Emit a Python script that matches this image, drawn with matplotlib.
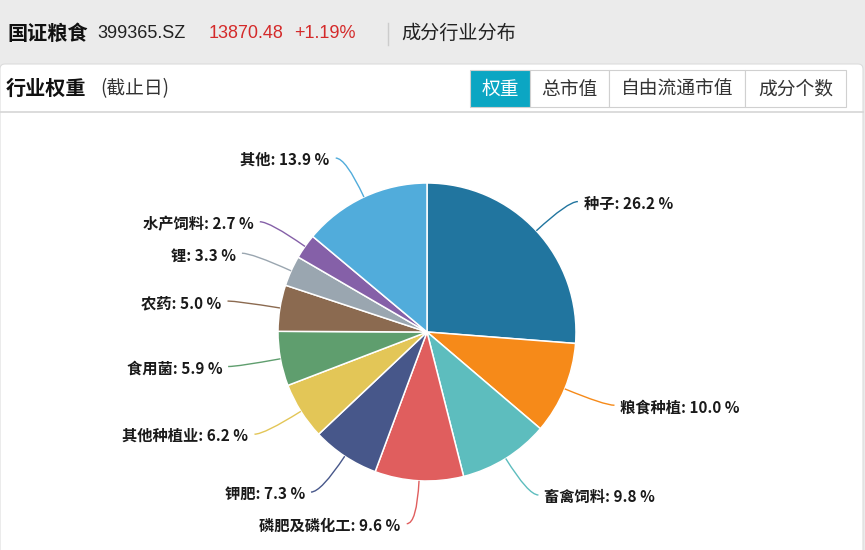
import matplotlib.pyplot as plt
import numpy as np
from matplotlib.patches import Rectangle, FancyBboxPatch, PathPatch
from matplotlib.path import Path

plt.rcParams['font.family'] = ['Noto Sans CJK SC', 'DejaVu Sans']

# data
industries = ['种子', '粮食种植', '畜禽饲料', '磷肥及磷化工', '钾肥', '其他种植业',
              '食用菌', '农药', '锂', '水产饲料', '其他']
weights = [26.2, 10.0, 9.8, 9.6, 7.3, 6.2, 5.9, 5.0, 3.3, 2.7, 13.9]
colors = ['#21759f', '#f68a19', '#5dbdbe', '#e05e5e', '#47578a', '#e3c657',
          '#5f9e6e', '#8b6a50', '#9aa6b0', '#8560a8', '#51acdb']
tabs = ['权重', '总市值', '自由流通市值', '成分个数']

latin = ['Liberation Sans', 'Noto Sans CJK SC']

fig = plt.figure(figsize=(8.65, 5.5), dpi=100)
fig.patch.set_facecolor('#ebebeb')
ax = fig.add_axes([0, 0, 1, 1])
ax.set_xlim(0, 865)
ax.set_ylim(550, 0)
ax.axis('off')

# white panel
ax.add_patch(FancyBboxPatch((0, 64), 863, 500, boxstyle='round,pad=0,rounding_size=5',
                            fc='white', ec='#dcdcdc', lw=0.8, zorder=0))
ax.plot([0, 863], [112, 112], color='#d6d6d6', lw=1.2, zorder=1)

# header line
ax.text(7, 33, '国证粮食', fontsize=14.5, fontweight='bold', va='center', color='#111111')
ax.text(97, 34, '399365.SZ', fontsize=13, va='center', color='#222222', family=latin)
ax.text(209, 34, '13870.48', fontsize=13, va='center', color='#d42a2a', family=latin)
ax.text(294, 34, '+1.19%', fontsize=13, va='center', color='#d42a2a', family=latin)
ax.plot([388, 388], [23, 45], color='#cccccc', lw=1)
ax.text(401, 33, '成分行业分布', fontsize=13.8, va='center', color='#222222')

# second line
ax.text(6, 88, '行业权重', fontsize=14.5, fontweight='bold', va='center', color='#111111')
ax.text(100, 89, '(截止日)', fontsize=13.5, va='center', color='#333333')

# tabs
tab_edges = [470, 530, 609, 745, 846]
for i, t in enumerate(tabs):
    x0, x1 = tab_edges[i], tab_edges[i + 1]
    active = i == 0
    ax.add_patch(Rectangle((x0, 70), x1 - x0, 37, fc='#0ba6c3' if active else 'white',
                           ec='#d0d0d0', lw=0.8, zorder=2))
    ax.text((x0 + x1) / 2, 89, t, fontsize=13.5, ha='center', va='center',
            color='white' if active else '#333333', zorder=3)

# pie
cx, cy, r = 427, 332, 149
wedges, _ = ax.pie(weights, colors=colors, startangle=-90, counterclock=True,
                   center=(cx, cy), radius=r, frame=True,
                   wedgeprops=dict(edgecolor='white', linewidth=1.1))
ax.set_xlim(0, 865)
ax.set_ylim(550, 0)
ax.axis('off')

for w, name, val, c in zip(wedges, industries, weights, colors):
    mid = np.deg2rad((w.theta1 + w.theta2) / 2)
    ux, uy = np.cos(mid), np.sin(mid)
    side = 1 if ux >= 0 else -1
    a = (cx + r * ux, cy + r * uy)
    b = (cx + (r + 43) * ux, cy + (r + 43) * uy)
    e = (b[0] + side * 10, b[1])
    p = Path([a, b, e], [Path.MOVETO, Path.CURVE3, Path.CURVE3])
    ax.add_patch(PathPatch(p, fc='none', ec=c, lw=1.0, zorder=3))
    ax.text(e[0] + side * 6, e[1] + 2, f'{name}: {val:.1f} %', fontsize=11,
            fontweight='bold', ha='left' if side > 0 else 'right', va='center',
            color='#1a1a1a')

fig.savefig('out.png', dpi=100, facecolor=fig.get_facecolor())
